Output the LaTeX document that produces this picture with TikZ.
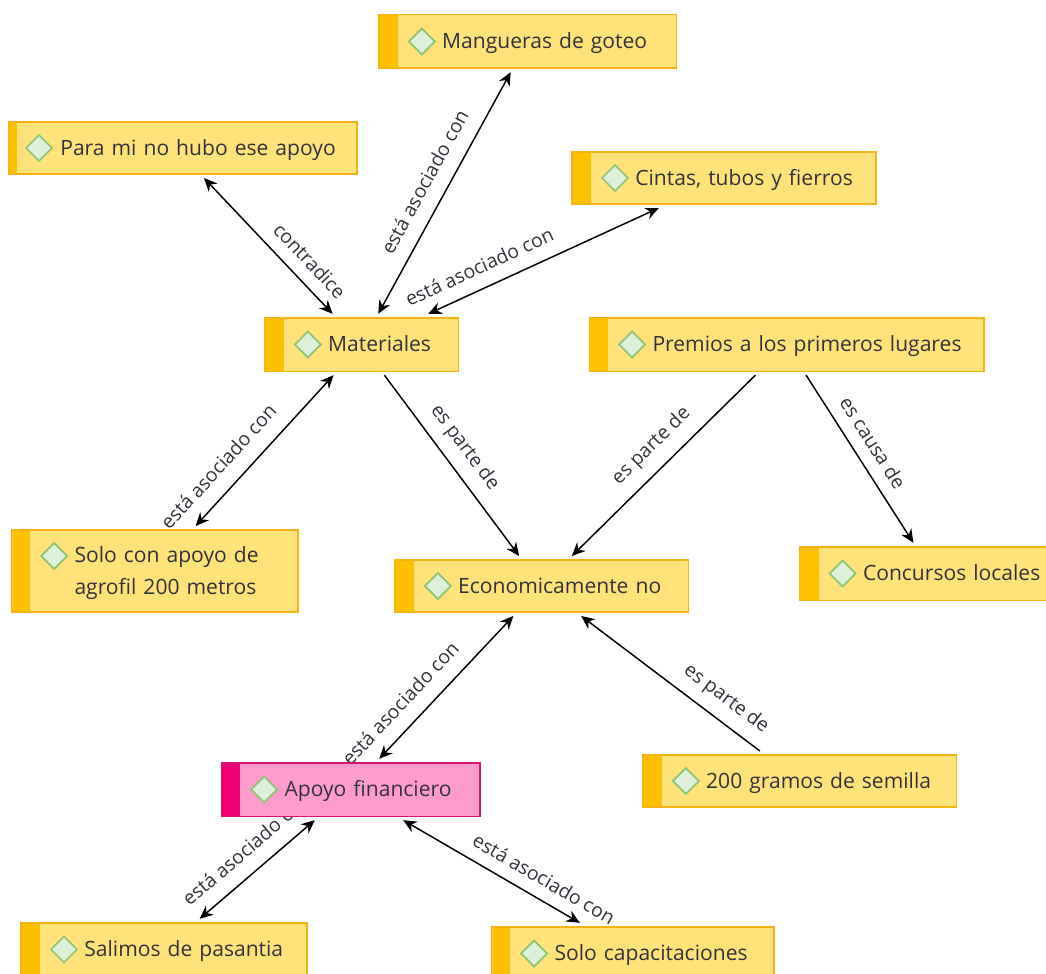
\documentclass[tikz,border=0pt]{standalone}
\usepackage{fontspec}
\setmainfont{Open Sans}
\usepackage{tikz}
\usetikzlibrary{arrows.meta,backgrounds,calc,shapes.geometric}

\definecolor{goldfill}{RGB}{255,226,122}
\definecolor{goldbar}{RGB}{255,192,0}
\definecolor{goldline}{RGB}{245,180,20}
\definecolor{pinkfill}{RGB}{255,156,206}
\definecolor{pinkbar}{RGB}{238,0,119}
\definecolor{pinkline}{RGB}{214,20,110}
\definecolor{leaffill}{RGB}{222,240,218}
\definecolor{leafline}{RGB}{140,196,116}
\definecolor{inktext}{RGB}{50,50,60}

\def\barw{14.25pt}
\def\markx{32.25pt}
\def\marky{0pt}
\def\textx{47.5pt}

\tikzset{
  bar width/.store in=\barw,
  mark x/.store in=\markx,
  mark y/.store in=\marky,
  text x/.store in=\textx,
  barbox/.style={draw=#1line,fill=#1fill,line width=1pt,outer sep=3pt,inner xsep=0pt,inner ysep=0pt,
    align=left,text=inktext,font=\fontsize{15.8}{24}\selectfont,text height=13.5pt,text depth=2.5pt,
    execute at begin node={\leftskip=\textx},
    path picture={
      \fill[#1bar] (path picture bounding box.south west) rectangle ($(path picture bounding box.north west)+(\barw,0)$);
      \node[diamond,draw=leafline,fill=leaffill,line width=1.3pt,text width=,align=none,text height=,text depth=,
        execute at begin node=,minimum width=22pt,minimum height=22pt,inner sep=0pt]
        at ($(path picture bounding box.west)+(\markx,\marky)$) {};
    }},
  linklabel/.style={sloped,above=7pt,inner sep=1pt,text=inktext,font=\fontsize{14.5}{16}\selectfont},
  oneway/.style={-{Stealth[length=10pt,width=9pt]},line width=1.1pt},
  twoway/.style={{Stealth[length=10pt,width=9pt]}-{Stealth[length=10pt,width=9pt]},line width=1.1pt}
}

\begin{document}
\begin{tikzpicture}[x=0.75pt,y=0.75pt]
\clip (0,0) rectangle (1046,-974);

% Boxes
\node (mang) [barbox=gold,text width=223pt,minimum height=40pt] at (527.5,-41.5) {Mangueras de goteo};
\node (para) [barbox=gold,text width=261pt,minimum height=39pt,bar width=6pt,mark x=22.5pt,text x=38.5pt] at (183,-148) {Para mi no hubo ese apoyo};
\node (cint) [barbox=gold,text width=228pt,minimum height=39pt] at (724,-178) {Cintas, tubos y fierros};
\node (matl) [barbox=gold,text width=145pt,minimum height=40pt] at (361.5,-344.5) {Materiales};
\node (prem) [barbox=gold,text width=296pt,minimum height=40pt] at (786.5,-344.5) {Premios a los primeros lugares};
\node (solo) [barbox=gold,text width=215pt,minimum height=61.5pt,mark y=11.25pt,text height=13.5pt,text depth=27pt] at (154.5,-571) {Solo con apoyo de\\agrofil 200 metros};
\node (econ) [barbox=gold,text width=220pt,minimum height=39pt] at (541.5,-586) {Economicamente no};
\node (conc) [barbox=gold,text width=200pt,minimum height=40pt] at (933,-573.5) {Concursos locales};
\node (apoy) [barbox=pink,text width=194pt,minimum height=40pt] at (350.5,-789.5) {Apoyo financiero};
\node (semi) [barbox=gold,text width=235pt,minimum height=39pt] at (799.5,-781) {200 gramos de semilla};
\node (sali) [barbox=gold,text width=214.5pt,minimum height=40pt] at (164,-949.5) {Salimos de pasantia};
\node (capa) [barbox=gold,text width=212pt,minimum height=40pt] at (632.5,-953.5) {Solo capacitaciones};

% Connectors
\begin{pgfonlayer}{background}
\draw [twoway] (matl) -- node [linklabel,pos=.5,above=3pt] {está asociado con} (mang);
\draw [twoway] (matl) -- node [linklabel,pos=.26,above=2pt] {está asociado con} (cint);
\draw [twoway] (para.-55) -- node [linklabel,pos=.71,above=1pt] {contradice} (matl);
\draw [twoway] (solo) -- node [linklabel,pos=.29,above=3.5pt] {está asociado con} (matl);
\draw [oneway] (matl) -- node [linklabel,pos=.47] {es parte de} (econ);
\draw [oneway] (prem) -- node [linklabel,pos=.48,above=1pt] {es parte de} (econ);
\draw [oneway] (prem) -- node [linklabel,pos=.466,above=1pt] {es causa de} (conc);
\draw [twoway] (apoy) -- node [linklabel,pos=.28,above=3pt] {está asociado con} (econ);
\draw [oneway] (semi) -- node [linklabel,pos=.26] {es parte de} (econ);
\draw [twoway] (sali) -- node [linklabel,pos=.53,above=3pt] {está asociado con} (apoy);
\draw [twoway] (apoy) -- node [linklabel,pos=.74,above=1pt] {está asociado con} (capa);
\end{pgfonlayer}

\end{tikzpicture}
\end{document}
